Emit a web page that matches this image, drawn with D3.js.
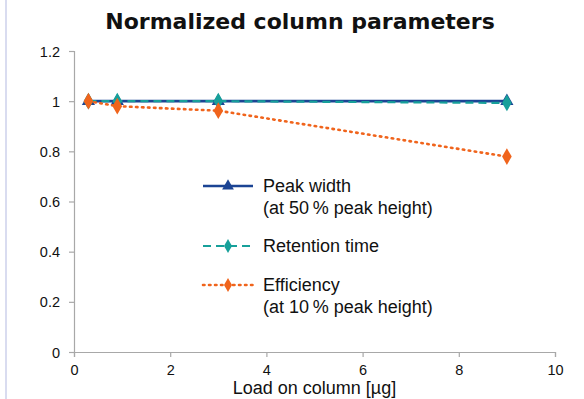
<!DOCTYPE html>
<html>
<head>
<meta charset="utf-8">
<script src="https://cdn.jsdelivr.net/npm/d3@7"></script>
<style>
  html, body { margin: 0; padding: 0; background: #fff; }
  svg { display: block; }
</style>
</head>
<body>
<svg id="chart" width="584" height="399"></svg>
<script>
// Sample loads on the column (µg)
const loads = [0.3, 0.9, 3, 9];
// Normalized values per series
const peakWidth = [1.0, 1.0, 1.0, 1.0];
const retentionTime = [1.0, 1.0, 1.0, 0.993];
const efficiency = [1.0, 0.98, 0.962, 0.779];

const xTicks = [0, 2, 4, 6, 8, 10];
const yTicks = [0, 0.2, 0.4, 0.6, 0.8, 1, 1.2];

const series = [
  { name: ["Peak width", "(at 50\u2009% peak height)"], values: peakWidth, color: "#1b4494", dash: null, width: 2.6, marker: "triangle" },
  { name: ["Retention time"], values: retentionTime, color: "#17a09a", dash: "8,5", width: 2.2, marker: "diamond" },
  { name: ["Efficiency", "(at 10\u2009% peak height)"], values: efficiency, color: "#f0641c", dash: "1.5,4.5", width: 2.6, marker: "diamond" }
];

const svg = d3.select("#chart");

// page frame line on the left
svg.append("rect").attr("x", 5).attr("y", 0).attr("width", 2).attr("height", 399).attr("fill", "#d9dcf0");

const x = d3.scaleLinear().domain([0, 10]).range([74, 555]);
const y = d3.scaleLinear().domain([0, 1.2]).range([352, 51]);

const axisColor = "#a8a8a8";
const font = "'Liberation Sans', Arial, Helvetica, sans-serif";

// Title
svg.append("text")
  .attr("x", 300).attr("y", 29)
  .attr("text-anchor", "middle")
  .attr("font-family", "'DejaVu Sans', Verdana, sans-serif")
  .attr("font-weight", "bold")
  .attr("font-size", 22)
  .attr("fill", "#111")
  .text("Normalized column parameters");

// Axes
const xAxis = d3.axisBottom(x).tickValues(xTicks).tickFormat(d3.format("d")).tickSize(5).tickSizeOuter(5);
const yAxis = d3.axisLeft(y).tickValues(yTicks).tickFormat(d => d === 0 || d === 1 ? String(d) : d3.format(".1f")(d)).tickSize(5).tickSizeOuter(5);

const gx = svg.append("g").attr("transform", `translate(0,${y(0)})`).call(xAxis);
const gy = svg.append("g").attr("transform", `translate(${x(0)},0)`).call(yAxis);

[gx, gy].forEach(g => {
  g.select(".domain").attr("stroke", axisColor).attr("stroke-width", 1.2);
  g.selectAll(".tick line").attr("stroke", axisColor).attr("stroke-width", 1.2);
  g.selectAll(".tick text").attr("fill", "#111").attr("font-family", font).attr("font-size", 14.5);
});
gx.selectAll(".tick text").attr("dy", "1.05em");
gy.selectAll(".tick text").attr("x", -14).attr("dy", "0.35em");

// x axis title
svg.append("text")
  .attr("x", x(5)).attr("y", 394)
  .attr("text-anchor", "middle")
  .attr("font-family", font)
  .attr("font-size", 18)
  .attr("fill", "#111")
  .text("Load on column [\u00b5g]");

// Lines and markers
const line = d3.line().x((d, i) => x(loads[i])).y(d => y(d));

function markerPath(type, size) {
  return d3.symbol().type(type === "triangle" ? d3.symbolTriangle : d3.symbolDiamond).size(size)();
}

series.forEach(s => {
  const g = svg.append("g");
  g.append("path")
    .datum(s.values)
    .attr("fill", "none")
    .attr("stroke", s.color)
    .attr("stroke-width", s.width)
    .attr("stroke-dasharray", s.dash)
    .attr("stroke-linecap", s.dash && s.dash.startsWith("1.5") ? "round" : "butt")
    .attr("d", line);
  g.selectAll("path.m")
    .data(s.values)
    .join("path")
    .attr("class", "m")
    .attr("transform", (d, i) => `translate(${x(loads[i])},${y(d)})`)
    .attr("d", markerPath(s.marker, s.marker === "triangle" ? 75 : 80))
    .attr("fill", s.color);
});

// Legend
const legendX1 = 203, legendX2 = 253, textX = 263;
const legendRows = [
  { s: series[0], ly: 186 },
  { s: series[1], ly: 246 },
  { s: series[2], ly: 285 }
];
legendRows.forEach(r => {
  const g = svg.append("g");
  g.append("line")
    .attr("x1", legendX1).attr("x2", legendX2)
    .attr("y1", r.ly).attr("y2", r.ly)
    .attr("stroke", r.s.color)
    .attr("stroke-width", r.s.width)
    .attr("stroke-dasharray", r.s.dash)
    .attr("stroke-linecap", r.s.dash && r.s.dash.startsWith("1.5") ? "round" : "butt");
  g.append("path")
    .attr("transform", `translate(${(legendX1 + legendX2) / 2},${r.ly})`)
    .attr("d", markerPath(r.s.marker, r.s.marker === "triangle" ? 60 : 55))
    .attr("fill", r.s.color);
  const t = g.append("text")
    .attr("x", textX).attr("y", r.ly + 6)
    .attr("font-family", font)
    .attr("font-size", 18)
    .attr("fill", "#111");
  r.s.name.forEach((n, i) => {
    t.append("tspan").attr("x", textX).attr("dy", i === 0 ? 0 : 22).text(n);
  });
});
</script>
</body>
</html>
